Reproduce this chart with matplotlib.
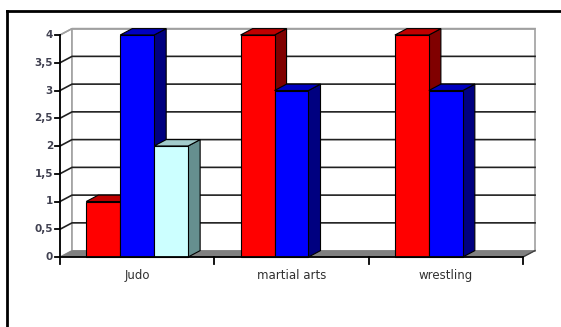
import numpy as np
import matplotlib
matplotlib.use('Agg')
import matplotlib.pyplot as plt
from matplotlib.patches import Polygon, Rectangle
from matplotlib.lines import Line2D

## data

categories = ['Judo', 'martial arts', 'wrestling']
red_vals = [1, 4, 4]
blue_vals = [4, 3, 3]
cyan_vals = [2, 0, 0]
yticks = [0, 0.5, 1, 1.5, 2, 2.5, 3, 3.5, 4]
ytick_labels = ['0', '0,5', '1', '1,5', '2', '2,5', '3', '3,5', '4']

## styles

series = [
    (red_vals, '#FF0000', '#C00000', '#800000'),
    (blue_vals, '#0000FF', '#0000C0', '#000080'),
    (cyan_vals, '#CCFFFF', '#A3CCCC', '#668F8F'),
]
w = 0.22          # bar width (category units)
dx = 0.078        # depth offset in x
dy = 0.115        # depth offset in y
x0, x1 = -0.5, 2.5
ymax = 4

fig = plt.figure(figsize=(5.61, 3.27), dpi=100)
ax = fig.add_axes([60/561, (327-257)/327, 463/561, 222/327])
ax.set_xlim(x0, x1)
ax.set_ylim(0, ymax)
ax.axis('off')

# outer frame (left + top visible)
fig.add_artist(Line2D([7/561, 7/561], [0, 1-11/327], transform=fig.transFigure, color='black', lw=2))
fig.add_artist(Line2D([7/561, 1], [1-11/327, 1-11/327], transform=fig.transFigure, color='black', lw=2))

# walls and floor
ax.add_patch(Polygon([(x0, 0), (x0+dx, dy), (x0+dx, ymax+dy), (x0, ymax)], closed=True,
                     facecolor='white', edgecolor='#A0A0A0', lw=1, clip_on=False, zorder=1))
ax.add_patch(Rectangle((x0+dx, dy), x1-x0, ymax, facecolor='white', edgecolor='#A0A0A0',
                       lw=1.2, clip_on=False, zorder=1))
ax.add_patch(Polygon([(x0, 0), (x1, 0), (x1+dx, dy), (x0+dx, dy)], closed=True,
                     facecolor='#808080', edgecolor='#808080', lw=0.5, clip_on=False, zorder=2))

# gridlines
for yv in yticks[1:]:
    col = '#A0A0A0' if yv == ymax else '#202020'
    ax.plot([x0, x0+dx, x1+dx], [yv, yv+dy, yv+dy], color=col, lw=1.2, clip_on=False, zorder=2)

# bars
xs = np.arange(len(categories))
z = 3
for gi, xc in enumerate(xs):
    for si, (vals, cf, ct, cs) in enumerate(series):
        v = vals[gi]
        if v == 0:
            continue
        xc_bar = xc + (si-1)*w
        l, r = xc_bar - w/2, xc_bar + w/2
        ax.add_patch(Polygon([(r, 0), (r+dx, dy), (r+dx, v+dy), (r, v)], closed=True,
                             facecolor=cs, edgecolor='black', lw=0.8, clip_on=False, zorder=z))
        ax.add_patch(Polygon([(l, v), (r, v), (r+dx, v+dy), (l+dx, v+dy)], closed=True,
                             facecolor=ct, edgecolor='black', lw=0.8, clip_on=False, zorder=z))
        ax.bar(xc_bar, v, width=w, color=cf, edgecolor='black', lw=0.8, zorder=z+1, clip_on=False)
        z += 2

# axes lines
ax.plot([x0, x0], [0, ymax], color='black', lw=1.3, clip_on=False, zorder=50)
ax.plot([x0, x1], [0, 0], color='black', lw=1.3, clip_on=False, zorder=50)
ax.plot([x1, x1+dx], [0, dy], color='#404040', lw=1, clip_on=False, zorder=50)

for yv, lab in zip(yticks, ytick_labels):
    ax.plot([x0 - 0.03, x0], [yv, yv], color='black', lw=1.3, clip_on=False, zorder=50)
    ax.text(x0 - 0.045, yv, lab, ha='right', va='center', fontsize=7.5, color='#404050',
            fontweight='bold')

for xb in np.arange(x0, x1 + 0.01, 1):
    ax.plot([xb, xb], [0, -0.13], color='black', lw=1.3, clip_on=False, zorder=50)

for xc, lab in zip(xs, categories):
    ax.text(xc, -0.33, lab, ha='center', va='center', fontsize=8.5, color='#303030')

plt.savefig('out.png', dpi=100)
